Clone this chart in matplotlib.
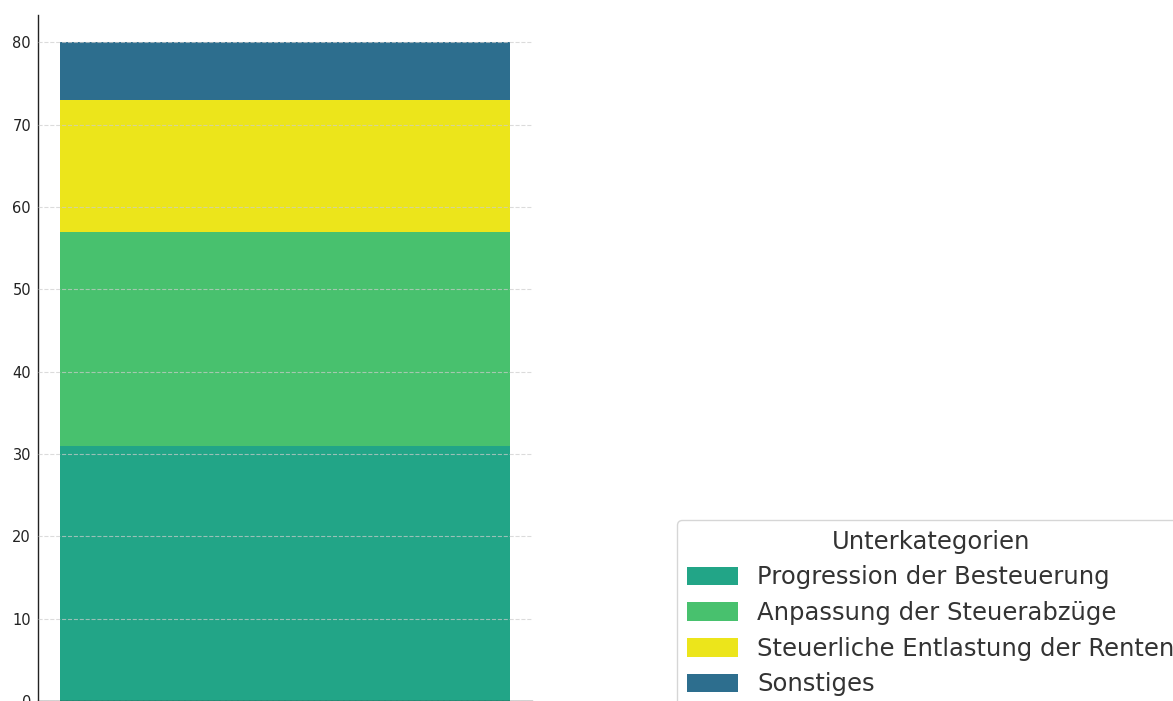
import matplotlib
matplotlib.use("Agg")
import matplotlib.pyplot as plt

# Stacked composition of a single category
categories = ["Steuerreform"]
labels = [
    "Progression der Besteuerung",
    "Anpassung der Steuerabzüge",
    "Steuerliche Entlastung der Renten",
    "Sonstiges",
]
values = [31, 26, 16, 7]
colors = ["#22A587", "#48C16E", "#ECE51B", "#2D6E8E"]
yticks = [0, 10, 20, 30, 40, 50, 60, 70, 80]

fig = plt.figure(figsize=(11.73, 7.01), dpi=100)
ax = fig.add_axes([38 / 1173, 0.0, (532 - 38) / 1173, 1 - 15 / 701])

bottom = 0
for lab, val, col in zip(labels, values, colors):
    ax.bar(categories, [val], bottom=bottom, color=col, label=lab, width=0.8,
           linewidth=0, zorder=2)
    bottom += val

ax.set_ylim(0, 83.3)
ax.set_xlim(-0.44, 0.44)
ax.set_yticks(yticks)
ax.set_xticks([])
ax.tick_params(axis="y", labelsize=10.5, length=0, pad=5, colors="#222222")
ax.grid(axis="y", linestyle="--", color="#cccccc", alpha=0.7, linewidth=0.8, zorder=3)
ax.set_axisbelow(False)
for side in ["top", "right"]:
    ax.spines[side].set_visible(False)
for side in ["left", "bottom"]:
    ax.spines[side].set_color("#222222")
    ax.spines[side].set_linewidth(1.0)

handles, hl = ax.get_legend_handles_labels()
leg = fig.legend(handles, hl, title="Unterkategorien", loc="upper left",
                 bbox_to_anchor=(677 / 1173, 1 - 520 / 701),
                 fontsize=17.5, title_fontsize=17.5, frameon=True,
                 handlelength=2.1, handleheight=0.8, labelspacing=0.48,
                 borderaxespad=0)
leg.get_frame().set_edgecolor("#cccccc")
for t in leg.get_texts():
    t.set_color("#333333")
leg.get_title().set_color("#333333")

fig.savefig("out.png", dpi=100)
